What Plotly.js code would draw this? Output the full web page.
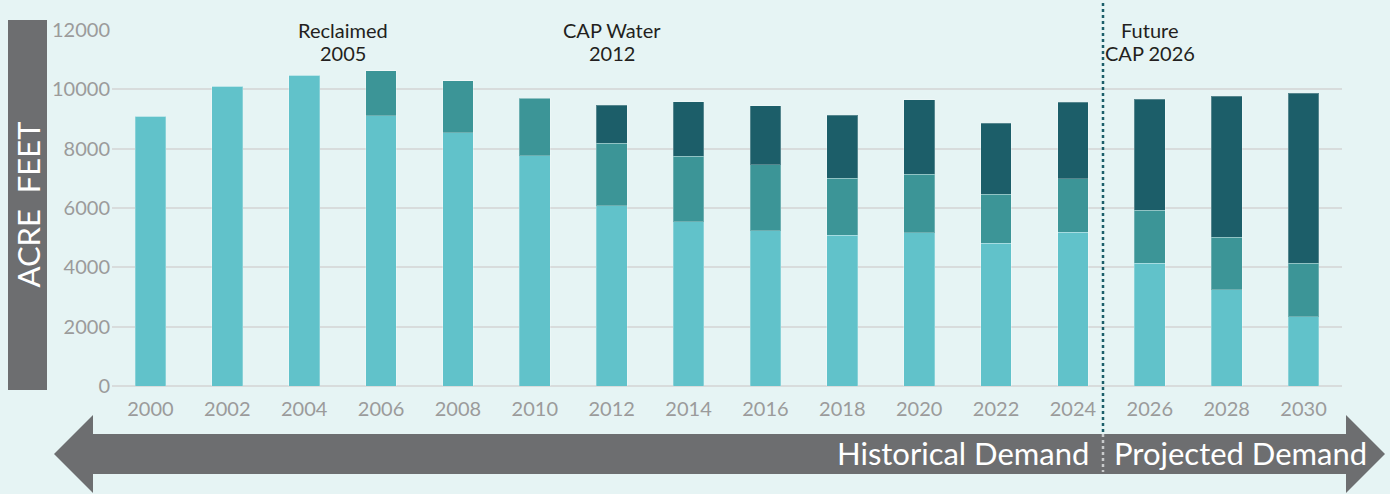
<!DOCTYPE html>
<html>
<head>
<meta charset="utf-8">
<script src="https://cdn.plot.ly/plotly-3.0.1.min.js"></script>
<style>
html,body{margin:0;padding:0;background:#e6f4f4;}
#chart{width:1390px;height:494px;}
</style>
</head>
<body>
<div id="chart"></div>
<script>
// ---- data ----
const years = ['2000','2002','2004','2006','2008','2010','2012','2014','2016','2018','2020','2022','2024','2026','2028','2030'];
const groundwater = [9100,10100,10480,9110,8540,7760,6070,5530,5230,5090,5160,4820,5180,4130,3240,2330];
const reclaimed   = [0,0,0,1510,1750,1940,2110,2220,2220,1920,1970,1650,1800,1790,1780,1800];
const capWater    = [0,0,0,0,0,0,1280,1840,1990,2120,2520,2380,2590,3750,4750,5730];
const yTicks = [0,2000,4000,6000,8000,10000,12000];
const milestoneX = [2.5, 6, 13];
const milestoneLine1 = ['Reclaimed','CAP Water','Future'];
const milestoneLine2 = ['2005','2012','CAP 2026'];

// ---- layout helpers (pixel -> paper) ----
const W = 1390, H = 494, ML = 112, MR = 48, MT = 30, MB = 108;
const PW = W - ML - MR, PH = H - MT - MB;
const px = x => (x - ML) / PW;
const py = y => (H - MB - y) / PH;

const BG = '#e6f4f4';
const C_LIGHT = '#61c2ca', C_MID = '#3c9597', C_DARK = '#1c5e69', GREY = '#6d6e70';
const FONT = 'Lato, "Open Sans", sans-serif';

function bar(name, vals, color){
  return {type:'bar', name:name, x:years, y:vals, marker:{color:color, line:{color:'rgba(255,255,255,0.25)', width:1}}, hoverinfo:'skip'};
}
const data = [bar('Groundwater', groundwater, C_LIGHT), bar('Reclaimed', reclaimed, C_MID), bar('CAP Water', capWater, C_DARK)];

const arrowPath = 'M ' + px(54) + ' ' + py(454) +
  ' L ' + px(93) + ' ' + py(415) +
  ' L ' + px(93) + ' ' + py(434) +
  ' L ' + px(1346) + ' ' + py(434) +
  ' L ' + px(1346) + ' ' + py(415) +
  ' L ' + px(1385) + ' ' + py(454) +
  ' L ' + px(1346) + ' ' + py(493) +
  ' L ' + px(1346) + ' ' + py(474) +
  ' L ' + px(93) + ' ' + py(474) +
  ' L ' + px(93) + ' ' + py(493) + ' Z';

const shapes = [
  {type:'rect', xref:'paper', yref:'paper', x0:px(8), x1:px(47), y0:py(390), y1:py(20), fillcolor:GREY, line:{width:0}, layer:'below'},
  {type:'path', xref:'paper', yref:'paper', path:arrowPath, fillcolor:GREY, line:{width:0}},
  {type:'line', xref:'paper', yref:'paper', x0:px(1103), x1:px(1103), y0:py(3), y1:py(434), line:{color:C_DARK, width:2.5, dash:'dot'}},
  {type:'line', xref:'paper', yref:'paper', x0:px(1103), x1:px(1103), y0:py(434), y1:py(472), line:{color:'#c9cbcc', width:2.5, dash:'dot'}}
];

const annotations = [];
milestoneX.forEach((mx,i)=>{
  annotations.push({x:mx, xref:'x', y:py(30), yref:'paper', yanchor:'middle', xanchor:'center',
    text:milestoneLine1[i], showarrow:false, bgcolor:BG, borderpad:2,
    font:{family:FONT, size:20, color:'#231f20'}});
  annotations.push({x:mx, xref:'x', y:py(53), yref:'paper', yanchor:'middle', xanchor:'center',
    text:milestoneLine2[i], showarrow:false,
    font:{family:FONT, size:20, color:'#231f20'}});
});
annotations.push(
  {x:px(27.5), y:py(205), xref:'paper', yref:'paper', text:'ACRE\u00a0\u00a0FEET', textangle:-90, showarrow:false,
   font:{family:FONT, size:31, color:'#ffffff'}, xanchor:'center', yanchor:'middle'},
  {x:px(1091), y:py(453), xref:'paper', yref:'paper', text:'Historical Demand', showarrow:false,
   font:{family:FONT, size:31, color:'#ffffff'}, xanchor:'right', yanchor:'middle'},
  {x:px(1112), y:py(453), xref:'paper', yref:'paper', text:'Projected Demand', showarrow:false,
   font:{family:FONT, size:31, color:'#ffffff'}, xanchor:'left', yanchor:'middle'}
);

const layout = {
  width:W, height:H,
  margin:{l:ML, r:MR, t:MT, b:MB, pad:0},
  paper_bgcolor:BG, plot_bgcolor:BG,
  barmode:'stack', bargap:0.6, showlegend:false,
  font:{family:FONT},
  xaxis:{type:'category', categoryorder:'array', categoryarray:years, range:[-0.5,15.5], showgrid:false, zeroline:false, showline:false, ticks:'',
         ticklabelstandoff:9, tickfont:{family:FONT, size:20, color:'#9b9b9b'}, fixedrange:true},
  yaxis:{range:[0,12000], tickvals:yTicks, ticktext:yTicks.map(String), showgrid:true, gridcolor:'#d8dcdc', gridwidth:2, zeroline:true, zerolinecolor:'#d8dcdc', zerolinewidth:2,
         ticks:'', ticklabelstandoff:1, tickfont:{family:FONT, size:20, color:'#9b9b9b'}, fixedrange:true},
  shapes:shapes, annotations:annotations
};
Plotly.newPlot('chart', data, layout, {displayModeBar:false, staticPlot:true});
</script>
</body>
</html>
